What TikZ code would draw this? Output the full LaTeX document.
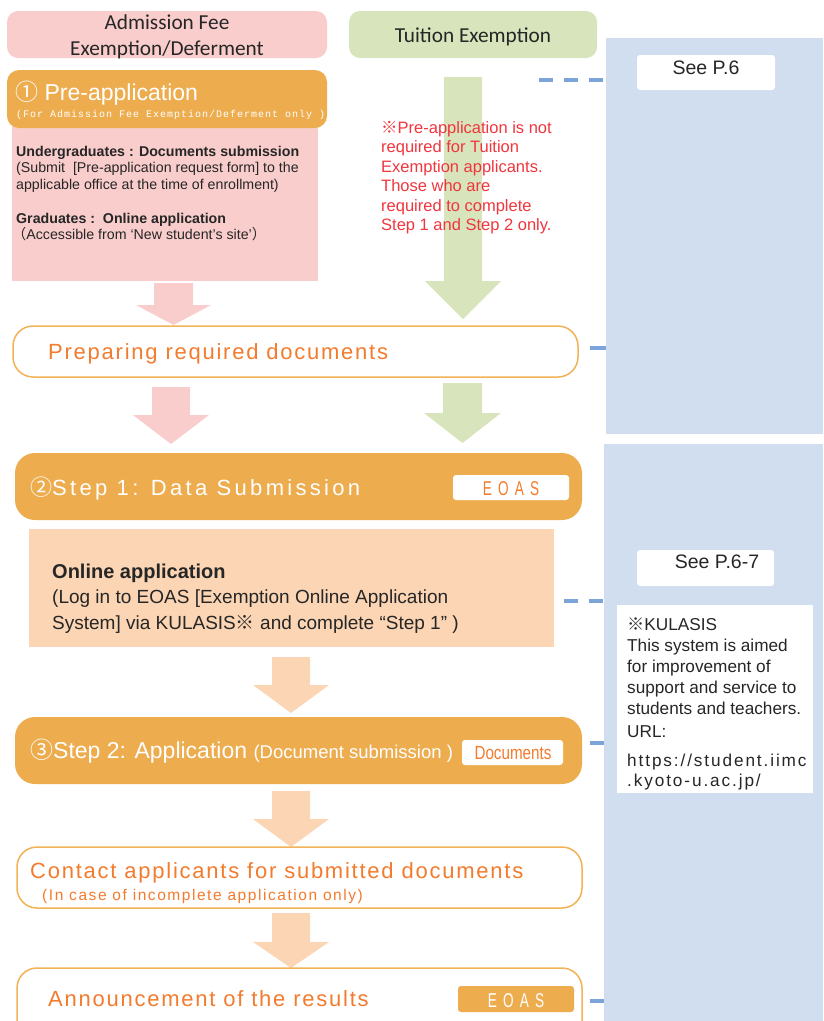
\documentclass[tikz,border=0pt]{standalone}
\usepackage{fontspec}
\usepackage{graphicx}
\setmainfont{Liberation Sans}
\newfontfamily\fCal{Carlito}
\newfontfamily\fJp{Noto Sans CJK JP}
\newfontfamily\fMono[LetterSpace=10]{Liberation Mono}
\newfontfamily\fSpA[LetterSpace=8]{Liberation Sans}
\newfontfamily\fSpB[LetterSpace=15]{Liberation Sans}
\newfontfamily\fSpC[LetterSpace=10]{Liberation Sans}
\newfontfamily\fSpU[LetterSpace=11]{Liberation Sans}
\newcommand\fs[1]{\fontsize{#1}{#1}\selectfont}
\definecolor{pinkF}{HTML}{F9CDCC}
\definecolor{greenF}{HTML}{D8E4BC}
\definecolor{orangeF}{HTML}{EDAD4F}
\definecolor{lightO}{HTML}{FBD5B4}
\definecolor{orangeT}{HTML}{F37B2D}
\definecolor{orangeL}{HTML}{F2B257}
\definecolor{blueP}{HTML}{D1DEF0}
\definecolor{blueL}{HTML}{7DA4D8}
\definecolor{redT}{HTML}{F0353D}
\definecolor{darkT}{HTML}{262626}
\newcommand\blockArrow[7]{\fill[#1] (#2-#6,#3) -- (#2+#6,#3) -- (#2+#6,#4) -- (#2+#7,#4) -- (#2,#5) -- (#2-#7,#4) -- (#2-#6,#4) -- cycle;}
\newcommand\eoasTxt{\scalebox{0.68}[1]{\fs{20}E\hspace{9pt}O\hspace{9pt}A\hspace{9pt}S}}
\begin{document}
\begin{tikzpicture}[x=1pt,y=-1pt,
  txt/.style={inner sep=0pt, anchor=base west},
  ctxt/.style={inner sep=0pt, anchor=base},
  box/.style={rectangle, inner sep=0pt, outer sep=0pt, draw=none, anchor=north west},
  panel/.style={box, fill=blueP},
  wbox/.style={box, fill=white, rounded corners=3},
  hdr/.style={box, rounded corners=11},
  obox/.style={box, fill=white, draw=orangeL, line width=1.5pt, rounded corners=20},
  sbox/.style={box, fill=orangeF, rounded corners=20},
  bline/.style={draw=blueL, line width=3.5pt},
  bdash/.style={bline, dash pattern=on 14pt off 11pt}]
\useasboundingbox (0,0) rectangle (823,1021);
% blue side panels
\node[panel, minimum width=217, minimum height=396] (pA) at (606,38) {};
\node[panel, minimum width=219, minimum height=580] (pB) at (604,444) {};
\node[wbox, minimum width=138, minimum height=35] (see1) at (637,55) {};
\node[ctxt, font=\fs{19.5}, text=darkT] (see1t) at (706,74) {See P.6};
\node[wbox, minimum width=137, minimum height=36] (see2) at (637,550) {};
\node[ctxt, font=\fs{19.5}, text=darkT] (see2t) at (717,568) {See P.6-7};
\node[box, fill=white, minimum width=196, minimum height=188] (kul) at (617,605) {};
\begin{scope}[every node/.style={txt, font=\fs{17.2}, text=darkT}]
\node (k1) at (627,630) {{\fJp ※}KULASIS};
\node (k2) at (627,651) {This system is aimed};
\node (k3) at (627,672) {for improvement of};
\node (k4) at (627,693) {support and service to};
\node (k5) at (627,714) {students and teachers.};
\node (k6) at (627,737) {URL:};
\node[font=\fSpU\fs{17.2}] (k7) at (627,766) {https://student.iimc};
\node[font=\fSpU\fs{17.2}] (k8) at (627,786) {.kyoto-u.ac.jp/};
\end{scope}
% headers
\node[hdr, fill=pinkF, minimum width=320, minimum height=47] (h1) at (7,11) {};
\node[ctxt, font=\fCal\fs{21.3}, text=darkT] (h1a) at (167,29) {Admission Fee};
\node[ctxt, font=\fCal\fs{21.3}, text=darkT] (h1b) at (167,55) {Exemption/Deferment};
\node[hdr, fill=greenF, minimum width=248, minimum height=47] (h2) at (349,11) {};
\node[ctxt, font=\fCal\fs{21.3}, text=darkT] (h2a) at (473,42) {Tuition Exemption};
% pre-application
\node[box, fill=pinkF, minimum width=306, minimum height=161] (pbody) at (12,120) {};
\node[box, fill=orangeF, rounded corners=12, minimum width=320, minimum height=58] (pre) at (7,70) {};
\node[txt, font=\fs{23}, text=white] (pret) at (15,100) {{\fJp ①} Pre-application};
\node[txt, font=\fMono\fs{10}, text=white] (pres) at (16,117) {(For Admission Fee Exemption/Deferment only )};
\begin{scope}[every node/.style={txt, font=\fs{14.2}, text=darkT}]
\node (b1) at (16,156) {\textbf{Undergraduates : Documents submission}};
\node (b2) at (16,172) {(Submit\ \ [Pre-application request form] to the};
\node (b3) at (16,189) {applicable office at the time of enrollment)};
\node (b4) at (16,223) {\textbf{Graduates :\ \ Online application}};
\node (b5) at (12,239) {{\fJp （}Accessible from ‘New student’s site’{\fJp ）}};
\end{scope}
% block arrows
\blockArrow{pinkF}{173.5}{283}{305}{325}{19.5}{37.5}
\blockArrow{pinkF}{171}{387}{415}{444}{19}{38}
\blockArrow{greenF}{463}{77}{281}{319}{19}{38}
\blockArrow{greenF}{462.5}{383}{413}{443}{19.5}{38.5}
\blockArrow{lightO}{291}{657}{685}{713}{19}{38}
\blockArrow{lightO}{291}{791}{819}{847}{19}{38}
\blockArrow{lightO}{291}{913}{942}{968}{19}{38}
% red note
\begin{scope}[every node/.style={txt, font=\fs{16.5}, text=redT}]
\node (r1) at (381,133) {{\fJp ※}Pre-application is not};
\node (r2) at (381,152) {required for Tuition};
\node (r3) at (381,172) {Exemption applicants.};
\node (r4) at (381,191) {Those who are};
\node (r5) at (381,211) {required to complete};
\node (r6) at (381,230) {Step 1 and Step 2 only.};
\end{scope}
% preparing
\node[obox, minimum width=565, minimum height=51] (prep) at (13,326) {};
\node[txt, font=\fSpA\fs{22}, text=orangeT] (prept) at (48,359) {Preparing required documents};
% step 1
\node[sbox, minimum width=567, minimum height=67] (s1) at (15,453) {};
\node[txt, font=\fSpB\fs{22}, text=white] (s1t) at (30,495) {{\fJp ②}Step 1: Data Submission};
\node[wbox, minimum width=116, minimum height=25] (eoas1) at (453,475) {};
\node[ctxt, text=orangeT] (eoas1t) at (511,495) {\eoasTxt};
\node[box, fill=lightO, minimum width=525, minimum height=118] (onl) at (29,529) {};
\begin{scope}[every node/.style={txt, font=\fs{19}, text=darkT}]
\node[font=\fs{20}] (o1) at (52,578) {\textbf{Online application}};
\node (o2) at (52,603) {(Log in to EOAS [Exemption Online Application};
\node (o3) at (52,629) {System] via KULASIS{\fJp ※} and complete “Step 1” )};
\end{scope}
% step 2
\node[sbox, minimum width=567, minimum height=67] (s2) at (15,717) {};
\node[txt, font=\fs{23}, text=white] (s2t) at (30,758) {{\fJp ③}Step 2: Application {\fs{18.5}(Document submission )}};
\node[wbox, minimum width=101, minimum height=25] (docs) at (462,740) {};
\node[ctxt, text=orangeT] (docst) at (513,759) {\scalebox{0.8}[1]{\fs{19}Documents}};
% contact
\node[obox, minimum width=565, minimum height=61] (cont) at (17,847) {};
\node[txt, font=\fSpA\fs{22}, text=orangeT] (contt) at (30,878) {Contact applicants for submitted documents};
\node[txt, font=\fSpC\fs{15.5}, text=orangeT] (conts) at (42,900) {(In case of incomplete application only)};
% announcement
\node[obox, minimum width=565, minimum height=80] (ann) at (17,968) {};
\node[txt, font=\fSpA\fs{22}, text=orangeT] (annt) at (48,1006) {Announcement of the results};
\node[box, fill=orangeF, rounded corners=3, minimum width=116, minimum height=26] (eoas2) at (458,986) {};
\node[ctxt, text=white] (eoas2t) at (516,1007) {\eoasTxt};
% blue connectors
\coordinate (d1) at (539,80);
\draw[bdash] (d1) -- (d1 -| pA.west);
\coordinate (d2) at (590,348);
\draw[bline] (d2) -- (d2 -| pA.west);
\coordinate (d3) at (564,601);
\draw[bdash] (d3) -- (d3 -| pB.west);
\coordinate (d4) at (590,743);
\draw[bline] (d4) -- (d4 -| pB.west);
\coordinate (d5) at (590,1001);
\draw[bline] (d5) -- (d5 -| pB.west);
\end{tikzpicture}
\end{document}
